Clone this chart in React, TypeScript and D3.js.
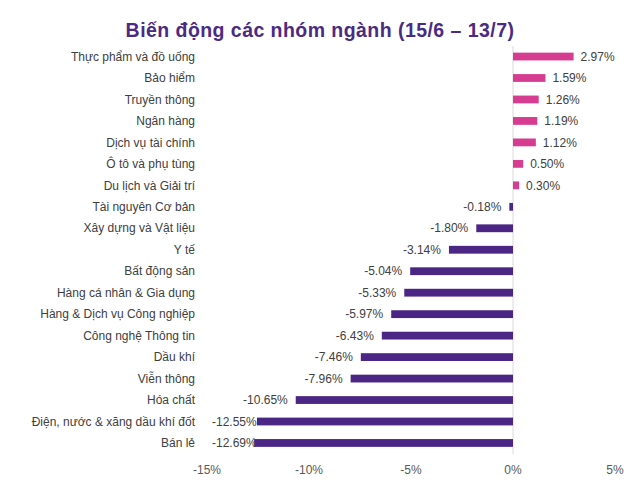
import React from 'react';
import * as d3 from 'd3';

const categories = [
  'Thực phẩm và đồ uống',
  'Bảo hiểm',
  'Truyền thông',
  'Ngân hàng',
  'Dịch vụ tài chính',
  'Ô tô và phụ tùng',
  'Du lịch và Giải trí',
  'Tài nguyên Cơ bản',
  'Xây dựng và Vật liệu',
  'Y tế',
  'Bất động sản',
  'Hàng cá nhân & Gia dụng',
  'Hàng & Dịch vụ Công nghiệp',
  'Công nghệ Thông tin',
  'Dầu khí',
  'Viễn thông',
  'Hóa chất',
  'Điện, nước & xăng dầu khí đốt',
  'Bán lẻ',
];

const changes = [2.97, 1.59, 1.26, 1.19, 1.12, 0.5, 0.3, -0.18, -1.8, -3.14, -5.04, -5.33, -5.97, -6.43, -7.46, -7.96, -10.65, -12.55, -12.69];

const xTicks = [-15, -10, -5, 0, 5];

const W = 640;
const H = 492;
const FONT = '"Liberation Sans", Arial, sans-serif';
const FS = 12;

// rough label width (Arial metrics) so labels stay inside the plot, like Excel does
const charW: Record<string, number> = { '-': 0.333, '.': 0.278, '%': 0.889 };
const textW = (s: string) => s.split('').reduce((a, ch) => a + (charW[ch] ?? 0.556), 0) * FS;

export default function App() {
  const x = d3.scaleLinear().domain([-15, 5]).range([207, 615]);
  const y = d3.scaleBand().domain(categories).range([41.9, 457.6]).paddingInner(0.637).paddingOuter(0.5);
  const bh = y.bandwidth();
  const plotLeft = 212;

  return (
    <svg width={W} height={H} style={{ position: 'absolute', left: 0, top: 0, background: '#fff' }} fontFamily={FONT}>
      <text x={320} y={36.5} textAnchor="middle" fontSize={19.5} letterSpacing={0.45} fontWeight="bold" fill="#4b2a84">
        Biến động các nhóm ngành (15/6 – 13/7)
      </text>
      <line x1={x(0)} x2={x(0)} y1={46} y2={454} stroke="#d9d9d9" strokeWidth={1} />
      {categories.map((c, i) => {
        const v = changes[i];
        const yc = (y(c) as number) + bh / 2;
        const x0 = x(Math.min(0, v));
        const x1 = x(Math.max(0, v));
        const label = v.toFixed(2) + '%';
        const lx = v >= 0 ? x1 + 7 : Math.max(plotLeft, x0 - 8 - textW(label));
        return (
          <g key={c}>
            <text x={195} y={yc} dy="0.35em" textAnchor="end" fontSize={FS} fill="#404040">{c}</text>
            <rect x={x0} y={y(c)} width={x1 - x0} height={bh} fill={v >= 0 ? '#d63c8f' : '#4b2684'} />
            <text x={lx} y={yc} dy="0.35em" textAnchor="start" fontSize={FS} fill="#404040">
              {label}
            </text>
          </g>
        );
      })}
      {xTicks.map((t) => (
        <text key={t} x={x(t)} y={469.5} dy="0.35em" textAnchor="middle" fontSize={FS} fill="#595959">
          {t + '%'}
        </text>
      ))}
    </svg>
  );
}
